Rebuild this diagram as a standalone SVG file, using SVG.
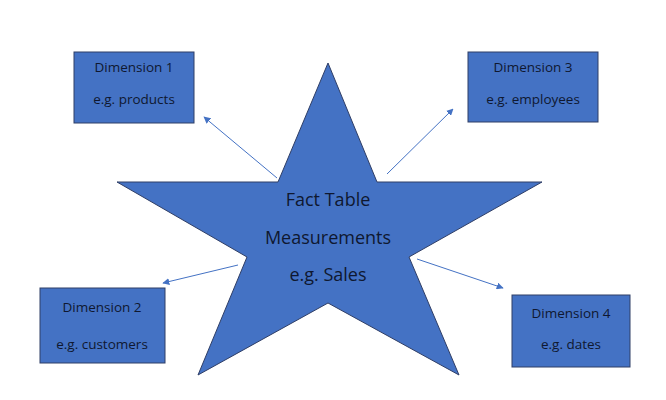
<svg xmlns="http://www.w3.org/2000/svg" width="666" height="400" viewBox="0 0 666 400">
<defs>
<style>
.box{fill:#4472C4;stroke:#2F3E66;stroke-width:1}
.star{fill:#4472C4;stroke:#2F3E66;stroke-width:1}
.t{font-family:"Open Sans","Liberation Sans",sans-serif;fill:#0f1830;text-anchor:middle}
.s{font-size:13.5px}
.b{font-size:18px}
.c{stroke:#4472C4;stroke-width:1;fill:none;marker-end:url(#ah)}
</style>
<marker id="ah" viewBox="0 0 10 10" refX="9" refY="5" markerWidth="7" markerHeight="7" markerUnits="userSpaceOnUse" orient="auto">
<path d="M0,0 L10,5 L0,10 z" fill="#4472C4"/>
</marker>
</defs>
<rect width="666" height="400" fill="#ffffff"/>
<g id="fact">
<polygon class="star" points="328,63 377,182 542,182 409,257 459,375 328,303 198,375 247,257 117,182 278,182"/>
<text class="t b" x="328" y="206">Fact Table</text>
<text class="t b" x="328" y="244">Measurements</text>
<text class="t b" x="328" y="281">e.g. Sales</text>
</g>
<g id="dim1">
<rect class="box" x="74" y="52" width="120" height="71"/>
<text class="t s" x="134" y="72">Dimension 1</text>
<text class="t s" x="134" y="104">e.g. products</text>
</g>
<g id="dim3">
<rect class="box" x="468" y="52" width="130" height="70"/>
<text class="t s" x="533" y="72">Dimension 3</text>
<text class="t s" x="533" y="104">e.g. employees</text>
</g>
<g id="dim2">
<rect class="box" x="40" y="288" width="125" height="75"/>
<text class="t s" x="102" y="312">Dimension 2</text>
<text class="t s" x="102" y="349">e.g. customers</text>
</g>
<g id="dim4">
<rect class="box" x="512" y="295" width="118" height="72"/>
<text class="t s" x="571" y="318">Dimension 4</text>
<text class="t s" x="571" y="349">e.g. dates</text>
</g>
<g id="connectors">
<line class="c" x1="277" y1="178" x2="204" y2="117"/>
<line class="c" x1="387" y1="174" x2="453" y2="109"/>
<line class="c" x1="238" y1="265" x2="163" y2="283"/>
<line class="c" x1="417" y1="259" x2="503" y2="288"/>
</g>
</svg>
